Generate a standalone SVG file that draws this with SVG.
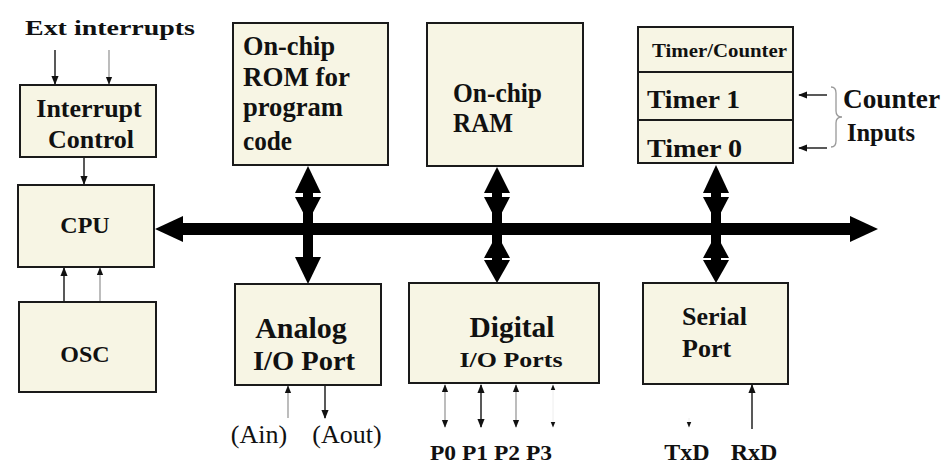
<svg xmlns="http://www.w3.org/2000/svg" width="941" height="472" viewBox="0 0 941 472">
<style>
.box{fill:#f7f5e4;stroke:#1a1a1a;stroke-width:2}
text{font-family:'Liberation Serif','Times New Roman','DejaVu Serif',serif;fill:#111}
.t{font-weight:bold}
.thin{stroke:#222;stroke-width:1.5;fill:none}
.lt{stroke:#999;stroke-width:1.3;fill:none}
.big{fill:#000}
</style>
<defs>
<marker id="ah" viewBox="0 0 10 10" refX="9" refY="5" markerWidth="6" markerHeight="6" orient="auto-start-reverse"><path d="M0,1 L10,5 L0,9 z" fill="#111"/></marker>
</defs>
<rect width="941" height="472" fill="#fff"/>

<g id="connectors">
  <line class="thin" x1="55" y1="50" x2="55" y2="84" marker-end="url(#ah)"/>
  <line class="lt" x1="109" y1="50" x2="109" y2="84" marker-end="url(#ah)"/>
  <line class="thin" x1="84" y1="158" x2="84" y2="184" marker-end="url(#ah)"/>
  <line class="thin" x1="64" y1="302" x2="64" y2="268" marker-end="url(#ah)"/>
  <line class="lt" x1="100" y1="302" x2="100" y2="268" marker-end="url(#ah)"/>
  <line class="lt" x1="288" y1="418" x2="288" y2="386" marker-end="url(#ah)"/>
  <line class="thin" x1="325" y1="386" x2="325" y2="418" marker-end="url(#ah)"/>
  <line class="lt" x1="445" y1="385" x2="445" y2="427" marker-start="url(#ah)" marker-end="url(#ah)"/>
  <line class="thin" x1="481" y1="385" x2="481" y2="427" marker-start="url(#ah)" marker-end="url(#ah)"/>
  <line class="lt" x1="516" y1="385" x2="516" y2="427" marker-start="url(#ah)" marker-end="url(#ah)"/>
  <line stroke="#eee" stroke-width="1" x1="553" y1="385" x2="553" y2="427" marker-start="url(#ah)" marker-end="url(#ah)"/>
  <line stroke="#eee" stroke-width="1" x1="689" y1="418" x2="689" y2="427" marker-end="url(#ah)"/>
  <line class="thin" x1="752" y1="429" x2="752" y2="385" marker-end="url(#ah)"/>
  <line class="thin" x1="827" y1="95" x2="799" y2="95" marker-end="url(#ah)"/>
  <line class="thin" x1="827" y1="148" x2="799" y2="148" marker-end="url(#ah)"/>
  <path class="lt" d="M831,87 Q836,87 836,93 L836,111 Q836,117 842,117 Q836,117 836,123 L836,141 Q836,147 831,147"/>

  <g class="big">
    <rect x="178" y="223" width="676" height="12"/>
    <polygon points="155,229 183,216 183,242"/>
    <polygon points="878,229 850,216 850,242"/>
  </g>
  <g class="big">
    <rect x="303" y="185" width="10" height="75"/>
    <polygon points="308,166 295,193 321,193"/>
    <polygon points="308,222 295,197 321,197"/>
    <polygon points="308,284 295,257 321,257"/>
  </g>
  <g class="big">
    <rect x="492" y="185" width="10" height="75"/>
    <polygon points="497,167 484,193 510,193"/>
    <polygon points="497,222 484,197 510,197"/>
    <polygon points="497,234 484,258 510,258"/>
    <polygon points="497,283 484,260 510,260"/>
  </g>
  <g class="big">
    <rect x="711" y="185" width="10" height="75"/>
    <polygon points="716,165 703,193 729,193"/>
    <polygon points="716,222 703,197 729,197"/>
    <polygon points="716,234 703,258 729,258"/>
    <polygon points="716,283 703,260 729,260"/>
  </g>
</g>

<g id="ext-interrupts"><text class="t" x="25" y="35" font-size="21" textLength="170" lengthAdjust="spacingAndGlyphs">Ext interrupts</text></g>

<g id="interrupt-control">
  <rect class="box" x="20" y="85" width="136" height="72"/>
  <text class="t" x="89" y="117" font-size="26" text-anchor="middle">Interrupt</text>
  <text class="t" x="91" y="148" font-size="26" text-anchor="middle">Control</text>
</g>

<g id="cpu">
  <rect class="box" x="18" y="185" width="136" height="82"/>
  <text class="t" x="85" y="233" font-size="24" text-anchor="middle">CPU</text>
</g>

<g id="osc">
  <rect class="box" x="19" y="302" width="137" height="90"/>
  <text class="t" x="85" y="362" font-size="24" text-anchor="middle">OSC</text>
</g>

<g id="rom">
  <rect class="box" x="233" y="23" width="155" height="142"/>
  <text class="t" x="243" y="55" font-size="27" textLength="92" lengthAdjust="spacingAndGlyphs">On-chip</text>
  <text class="t" x="243" y="86" font-size="27" textLength="107" lengthAdjust="spacingAndGlyphs">ROM for</text>
  <text class="t" x="243" y="116" font-size="27" textLength="100" lengthAdjust="spacingAndGlyphs">program</text>
  <text class="t" x="243" y="150" font-size="27" textLength="49" lengthAdjust="spacingAndGlyphs">code</text>
</g>

<g id="ram">
  <rect class="box" x="427" y="23" width="156" height="143"/>
  <text class="t" x="453" y="102" font-size="27" textLength="89" lengthAdjust="spacingAndGlyphs">On-chip</text>
  <text class="t" x="453" y="132" font-size="27" textLength="60" lengthAdjust="spacingAndGlyphs">RAM</text>
</g>

<g id="timer">
  <rect class="box" x="638" y="27" width="155" height="136"/>
  <line x1="638" y1="72" x2="793" y2="72" stroke="#1a1a1a" stroke-width="2"/>
  <line x1="638" y1="120" x2="793" y2="120" stroke="#1a1a1a" stroke-width="2"/>
  <text class="t" x="652" y="57" font-size="19" textLength="135" lengthAdjust="spacingAndGlyphs">Timer/Counter</text>
  <text class="t" x="647" y="108" font-size="26" textLength="93" lengthAdjust="spacingAndGlyphs">Timer 1</text>
  <text class="t" x="647" y="157" font-size="26" textLength="95" lengthAdjust="spacingAndGlyphs">Timer 0</text>
</g>

<g id="counter-inputs">
  <text class="t" x="843" y="108" font-size="27" textLength="97" lengthAdjust="spacingAndGlyphs">Counter</text>
  <text class="t" x="847" y="141" font-size="26" textLength="68" lengthAdjust="spacingAndGlyphs">Inputs</text>
</g>

<g id="analog">
  <rect class="box" x="235" y="284" width="146" height="101"/>
  <text class="t" x="301" y="338" font-size="30" text-anchor="middle">Analog</text>
  <text class="t" x="304" y="370" font-size="27" text-anchor="middle" textLength="102" lengthAdjust="spacingAndGlyphs">I/O Port</text>
  <text x="259" y="443" font-size="26" text-anchor="middle">(Ain)</text>
  <text x="347" y="443" font-size="26" text-anchor="middle">(Aout)</text>
</g>

<g id="digital">
  <rect class="box" x="409" y="283" width="190" height="100"/>
  <text class="t" x="512" y="337" font-size="30" text-anchor="middle" textLength="85" lengthAdjust="spacingAndGlyphs">Digital</text>
  <text class="t" x="511" y="367" font-size="22" text-anchor="middle" textLength="103" lengthAdjust="spacingAndGlyphs">I/O Ports</text>
  <text class="t" x="491" y="460" font-size="20" text-anchor="middle" textLength="122" lengthAdjust="spacingAndGlyphs">P0 P1 P2 P3</text>
</g>

<g id="serial">
  <rect class="box" x="643" y="283" width="145" height="101"/>
  <text class="t" x="682" y="325" font-size="26">Serial</text>
  <text class="t" x="682" y="357" font-size="26">Port</text>
  <text class="t" x="687" y="460" font-size="24" text-anchor="middle">TxD</text>
  <text class="t" x="754" y="460" font-size="24" text-anchor="middle">RxD</text>
</g>
</svg>
